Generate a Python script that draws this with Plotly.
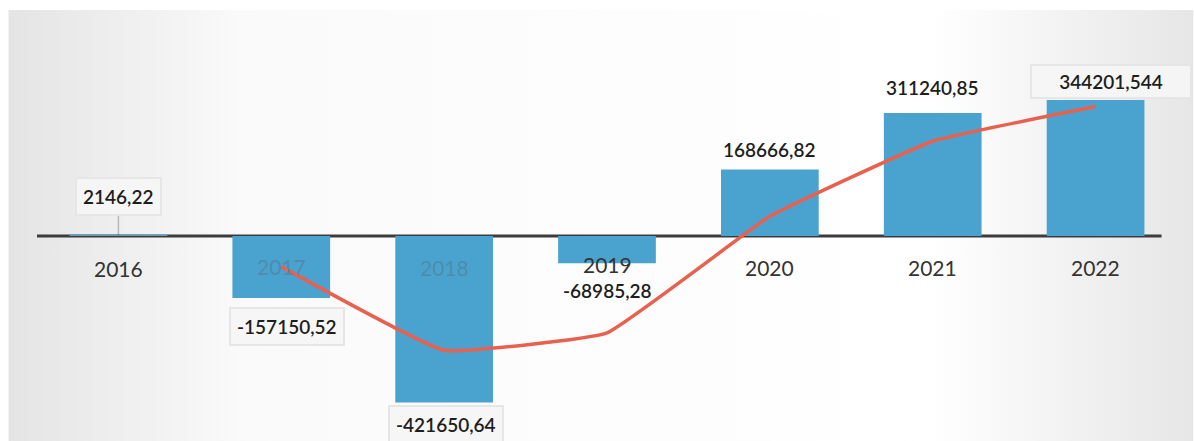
import plotly.graph_objects as go

# Annual result and its two-year moving average
years = ["2016", "2017", "2018", "2019", "2020", "2021", "2022"]
values = [2146.22, -157150.52, -421650.64, -68985.28, 168666.82, 311240.85, 344201.544]
labels = ["2146,22", "-157150,52", "-421650,64", "-68985,28", "168666,82", "311240,85", "344201,544"]
trend_years = ["2017", "2018", "2019", "2020", "2021", "2022"]
trend_values = [-77502.15, -289400.58, -245317.96, 49840.77, 239953.84, 327720.70]

BAR = "#4aa3cf"
LINE = "#e8604e"
TXT = "#1e1e1e"
FONT = "Lato, 'Open Sans', sans-serif"

fig = go.Figure()

fig.add_trace(go.Bar(
    x=years, y=values, marker=dict(color=BAR, line=dict(width=0)),
    hoverinfo="skip", showlegend=False,
))
fig.add_trace(go.Scatter(
    x=trend_years, y=trend_values, mode="lines",
    line=dict(color=LINE, width=3.5, shape="spline", smoothing=0.3),
    hoverinfo="skip", showlegend=False,
))

# value labels: offsets (px), box styling and box width
label_dy = [39, -28, -22, -27, 20, 26, 19]
label_dx = [0, 6, 2, 0, 0, 0, 15]
label_box = [True, True, True, False, False, False, True]
box_width = [None, None, None, None, None, None, 150]
for i, (v, txt, dy, dx, boxed, w) in enumerate(
        zip(values, labels, label_dy, label_dx, label_box, box_width)):
    fig.add_annotation(
        x=i, y=v, text=txt, showarrow=False, yshift=dy, xshift=dx,
        font=dict(family=FONT, size=19, color=TXT, weight=600),
        width=w,
        bgcolor="rgba(246,246,246,0.95)" if boxed else "rgba(0,0,0,0)",
        bordercolor="#e6e6e6" if boxed else "rgba(0,0,0,0)",
        borderwidth=2 if boxed else 0,
        borderpad=(4 if w else 6) if boxed else 0,
    )

# leader from the 2016 label down to the axis
fig.add_shape(type="line", xref="x", yref="y", x0=0, x1=0,
              y0=0, y1=64000, line=dict(color="#b8b8b8", width=1.5), layer="below")

# category labels sitting just under the zero line (hidden ones dimmed by the bars)
tick_colors = ["#333333", "#4d8cad", "#4d8cad", "#333333", "#333333", "#333333", "#333333"]
tick_shift = [-32, -30, -31, -28, -31, -31, -31]
for i, (yr, c, dy) in enumerate(zip(years, tick_colors, tick_shift)):
    fig.add_annotation(
        x=i, y=0, text=yr, showarrow=False, yshift=dy,
        font=dict(family=FONT, size=21, color=c),
    )

# zero axis line
fig.add_shape(type="line", xref="x", yref="y", x0=-0.51, x1=6.405, y0=0, y1=0,
              line=dict(color="#3c3c3c", width=3), layer="below")

# soft page shading at the sides
bg_svg = (
    "data:image/svg+xml;utf8,"
    "<svg xmlns='http://www.w3.org/2000/svg' width='1194' height='441'>"
    "<defs><linearGradient id='g' x1='0' y1='0' x2='1' y2='0'>"
    "<stop offset='0' stop-color='%23e4e4e4'/>"
    "<stop offset='0.2' stop-color='%23fafafa'/>"
    "<stop offset='0.78' stop-color='%23ffffff'/>"
    "<stop offset='1' stop-color='%23e6e6e6'/>"
    "</linearGradient></defs>"
    "<rect width='1194' height='441' fill='white'/>"
    "<rect x='8' y='10' width='1186' height='431' fill='url(%23g)'/>"
    "</svg>"
)
fig.add_layout_image(dict(source=bg_svg, xref="paper", yref="paper",
                          x=-36.5 / 1141, y=1, sizex=1194 / 1141, sizey=1,
                          sizing="stretch", layer="below",
                          xanchor="left", yanchor="top"))

fig.update_layout(
    width=1194, height=441,
    margin=dict(l=36.5, r=16.5, t=0, b=0),
    paper_bgcolor="white", plot_bgcolor="rgba(0,0,0,0)",
    bargap=0.4,
    xaxis=dict(type="category", range=[-0.5, 6.5], showticklabels=False,
               showgrid=False, zeroline=False, showline=False, fixedrange=True),
    yaxis=dict(range=[-519000, 597500], showticklabels=False, showgrid=False,
               zeroline=False, showline=False, fixedrange=True),
    font=dict(family=FONT),
)

fig.write_html("out.html")
